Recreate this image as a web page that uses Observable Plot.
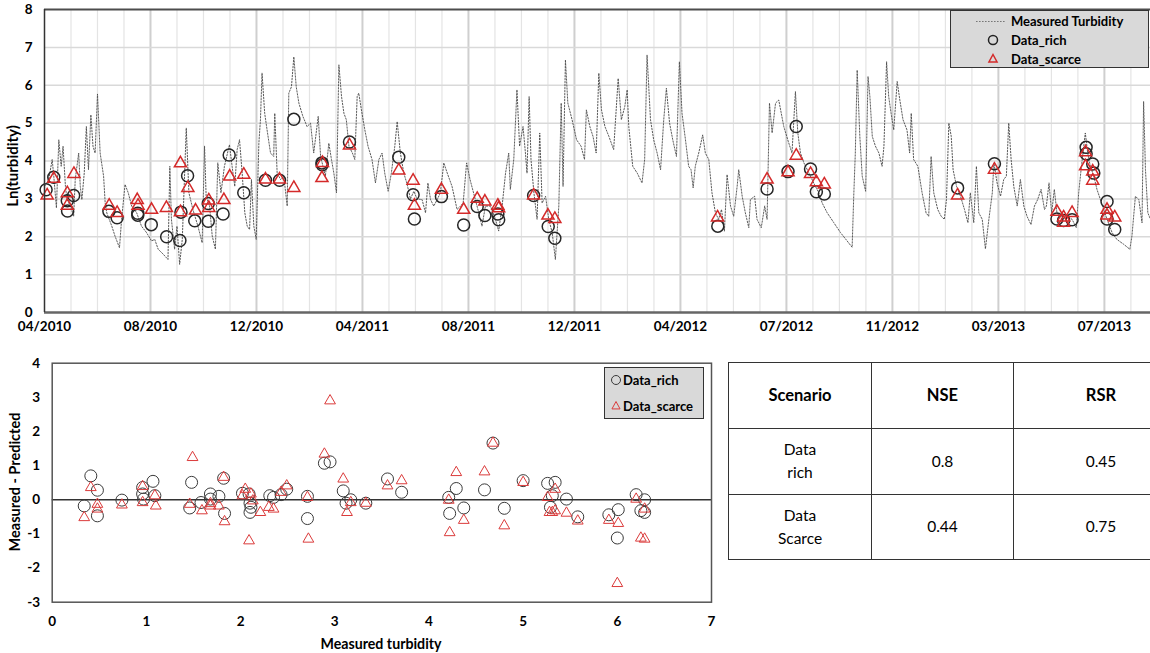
<!DOCTYPE html>
<html><head><meta charset="utf-8">
<script src="https://cdn.jsdelivr.net/npm/d3@7"></script>
<script src="https://cdn.jsdelivr.net/npm/@observablehq/plot@0.6"></script>
<style>
body{margin:0;background:#fff;font-family:Lato,"Open Sans",sans-serif;color:#000;}
#wrap{position:relative;width:1150px;height:653px;overflow:hidden;background:#fff;}
.vlab{position:absolute;transform:translate(-50%,-50%) rotate(-90deg);white-space:nowrap;font-weight:bold;}
.hlab{position:absolute;transform:translate(-50%,-50%);white-space:nowrap;font-weight:bold;}
.legend{position:absolute;background:#d9d9d9;border:1.5px solid #333;box-sizing:border-box;}
.lrow{position:absolute;font-weight:bold;font-size:13px;white-space:nowrap;line-height:14px;}
.lrow svg{position:absolute;}
table.stats{position:absolute;left:728px;top:362px;border-collapse:collapse;table-layout:fixed;width:460px;font-family:Lato,sans-serif;font-size:15.5px;}
table.stats td{border:1.5px solid #333;text-align:center;vertical-align:middle;padding:0;line-height:23px;}
</style></head><body><div id="wrap"></div>
<script>
// ---------- data ----------
const xTickLabels = ["04/2010","08/2010","12/2010","04/2011","08/2011","12/2011","04/2012","07/2012","11/2012","03/2013","07/2013"];
const yTicksTop = [0,1,2,3,4,5,6,7,8];
const xTicksBottom = [0,1,2,3,4,5,6,7];
const yTicksBottom = [-3,-2,-1,0,1,2,3,4];

// measured turbidity (x = period index along the category axis, y = Ln(turbidity))
const turbidity = [
[0,3.33],[.16,3.51],[.29,4.04],[.35,3.60],[.45,2.76],[.54,4.56],[.63,3.86],[.70,4.39],[.79,3.33],[.85,2.98],[.98,2.81],[1.10,2.54],[1.16,3.51],[1.29,4.21],[1.35,3.33],[1.41,2.98],[1.50,3.68],[1.58,4.91],[1.66,3.77],[1.75,5.22],[1.83,4.39],[1.91,4.21],[2.00,5.77],[2.10,4.21],[2.23,3.60],[2.29,2.89],[2.35,2.63],[2.54,2.28],[2.66,2.02],[2.83,1.71],[2.91,2.46],[3.04,3.38],[3.16,3.16],[3.29,2.81],[3.48,2.63],[3.66,2.28],[3.85,2.11],[4.04,1.89],[4.16,1.93],[4.29,1.67],[4.48,1.54],[4.66,1.40],[4.73,3.86],[4.79,2.46],[4.91,1.67],[5.00,2.28],[5.10,1.27],[5.20,1.93],[5.35,4.87],[5.45,3.16],[5.60,2.72],[5.79,2.28],[5.95,1.84],[6.04,4.39],[6.10,3.07],[6.23,2.81],[6.33,2.02],[6.45,1.67],[6.54,3.95],[6.66,3.16],[6.79,3.86],
[6.98,4.43],[7.08,3.86],[7.18,3.33],[7.27,4.30],[7.36,4.56],[7.46,3.68],[7.56,2.63],[7.65,2.28],[7.74,2.19],[7.81,3.51],[7.90,2.28],[7.99,1.93],[8.09,4.47],[8.15,5.09],[8.21,6.32],[8.31,5.26],[8.40,4.82],[8.53,4.21],[8.65,4.12],[8.69,5.26],[8.78,3.68],[8.91,3.51],[9.03,3.60],[9.16,2.81],[9.22,5.79],[9.32,5.96],[9.41,6.75],[9.50,5.96],[9.60,5.53],[9.75,5.18],[9.91,4.91],[10.04,5.00],[10.16,4.21],[10.33,5.18],[10.42,4.12],[10.51,3.86],[10.60,3.60],[10.73,4.47],[10.83,4.04],[10.92,3.68],[11.02,3.16],[11.11,6.54],[11.21,5.70],[11.30,5.26],[11.39,5.09],[11.49,4.39],[11.62,4.21],[11.71,4.04],[11.80,5.70],[11.86,5.79],[11.96,5.35],[12.09,4.82],[12.21,4.39],[12.36,4.04],[12.49,3.42],[12.62,4.04],[12.74,4.21],[12.84,3.68],[12.97,3.20],[13.09,3.68],[13.22,4.39],[13.31,5.04],[13.43,4.21],[13.56,3.68],[13.68,3.40],[13.81,3.00],[13.94,3.20],
[14.06,3.00],[14.25,2.98],[14.38,2.63],[14.47,3.42],[14.57,2.98],[14.69,2.81],[14.82,2.98],[14.94,3.16],[15.07,3.95],[15.20,3.68],[15.38,3.33],[15.57,2.72],[15.70,2.81],[15.80,2.89],[15.93,3.95],[16.06,3.51],[16.26,2.98],[16.39,2.63],[16.51,2.28],[16.64,2.81],[16.83,2.81],[17.02,2.46],[17.14,2.15],[17.27,2.81],[17.40,3.68],[17.52,4.21],[17.58,3.25],[17.71,4.04],[17.83,5.88],[17.93,4.39],[18.06,4.91],[18.15,4.21],[18.21,3.68],[18.29,5.70],[18.36,4.04],[18.47,3.16],[18.59,2.46],[18.69,4.74],[18.78,2.89],[18.91,3.07],[19.03,2.46],[19.16,2.11],[19.28,1.40],[19.41,2.81],[19.50,5.53],[19.57,3.33],[19.66,6.67],[19.75,5.53],[19.91,5.09],[20.08,4.56],[20.25,4.39],[20.38,4.04],[20.45,5.35],[20.58,4.91],[20.70,4.65],[20.82,4.21],[20.92,6.32],
[21.02,5.35],[21.15,4.91],[21.30,4.65],[21.48,4.30],[21.65,6.18],[21.77,5.09],[21.90,5.44],[21.99,5.88],[22.05,4.91],[22.20,3.86],[22.37,3.68],[22.55,3.42],[22.65,4.04],[22.74,6.80],[22.87,5.09],[22.99,4.56],[23.12,4.21],[23.25,3.77],[23.37,5.09],[23.47,5.92],[23.59,5.00],[23.71,4.56],[23.85,4.12],[23.96,6.62],[24.06,5.26],[24.19,4.56],[24.31,3.86],[24.40,3.77],[24.48,3.29],[24.56,3.86],[24.69,4.21],[24.84,4.69],[24.94,4.21],[25.07,4.04],[25.19,3.16],[25.32,2.63],[25.44,2.46],[25.55,2.72],[25.66,2.15],[25.76,3.64],[25.89,2.81],[26.01,2.54],[26.14,3.33],[26.20,3.77],[26.33,3.07],[26.45,2.63],[26.58,2.24],[26.64,2.98],[26.80,3.07],[26.89,2.46],[27.05,2.24],[27.18,2.81],[27.27,2.46],[27.36,5.53],[27.46,4.74],[27.59,5.53],[27.71,5.61],
[27.90,4.91],[28.05,4.56],[28.21,4.21],[28.28,5.09],[28.34,5.83],[28.43,4.74],[28.53,4.21],[28.66,3.95],[28.85,3.68],[29.03,3.42],[29.22,3.16],[29.35,2.89],[29.54,2.63],[29.79,2.37],[30.04,2.11],[30.29,1.89],[30.48,1.72],[30.54,3.07],[30.60,4.21],[30.67,6.40],[30.77,4.65],[30.86,3.60],[30.99,3.20],[31.08,6.23],[31.15,5.70],[31.24,4.65],[31.36,4.39],[31.49,4.21],[31.61,3.86],[31.68,4.39],[31.78,6.62],[31.86,5.70],[31.95,5.26],[32.05,4.82],[32.18,6.10],[32.28,5.61],[32.40,5.09],[32.55,4.82],[32.65,4.21],[32.71,5.26],[32.80,4.04],[32.96,3.86],[33.12,3.16],[33.27,2.63],[33.37,2.54],[33.46,4.12],[33.56,3.16],[33.71,2.72],[33.84,2.54],[33.96,2.46],[34.04,2.98],[34.13,5.00],[34.22,4.65],[34.29,3.77],[34.42,3.33],[34.57,3.07],[34.72,2.72],[34.85,2.37],
[34.94,3.16],[35.07,2.37],[35.17,3.86],[35.26,2.63],[35.39,2.46],[35.51,1.68],[35.64,2.46],[35.77,3.16],[35.83,3.95],[35.95,3.42],[36.08,3.07],[36.20,3.51],[36.30,3.60],[36.39,5.00],[36.48,4.04],[36.58,3.33],[36.71,2.81],[36.83,3.51],[36.96,2.81],[37.08,2.54],[37.23,2.32],[37.36,2.81],[37.48,2.98],[37.61,3.25],[37.74,2.72],[37.81,2.81],[37.91,3.42],[38.01,2.63],[38.11,3.25],[38.21,2.63],[38.40,2.46],[38.59,2.54],[38.78,2.46],[38.94,2.24],[39.03,3.16],[39.12,3.77],[39.22,4.39],[39.28,4.74],[39.37,4.21],[39.47,3.86],[39.60,3.60],[39.72,3.25],[39.85,2.98],[39.97,2.72],[40.10,2.46],[40.29,2.11],[40.47,1.93],[40.73,1.80],[40.96,1.67],[41.04,2.02],[41.17,3.07],[41.30,2.98],[41.42,2.37],[41.48,5.57],[41.55,3.77],[41.64,2.63],[41.74,2.46]
];

// predicted points over time
const richTop = [
[0.06,3.24],[0.35,3.57],[0.86,2.95],[0.87,2.68],[1.10,3.09],[2.43,2.67],[2.74,2.50],[3.52,2.62],[3.52,2.57],[4.03,2.32],[4.61,2.00],[5.11,1.90],[5.15,2.65],[5.40,3.61],[5.67,2.42],[6.18,2.88],[6.18,2.41],[6.74,2.60],[6.97,4.16],[7.52,3.16],[8.34,3.49],[8.87,3.49],[9.41,5.10],[10.47,3.95],[10.48,3.90],[11.51,4.50],[13.37,4.10],[13.91,3.11],[13.96,2.47],[14.98,3.06],[15.82,2.31],[16.33,2.80],[16.62,2.56],[17.11,2.60],[17.14,2.45],[18.46,3.09],[19.01,2.27],[19.26,1.96],[25.41,2.28],[27.27,3.26],[28.06,3.72],[28.37,4.91],[28.91,3.79],[29.13,3.19],[29.43,3.13],[34.46,3.29],[35.85,3.93],[38.21,2.47],[38.46,2.43],[38.78,2.45],[39.31,4.36],[39.31,4.19],[39.56,3.92],[39.60,3.68],[40.10,2.93],[40.10,2.47],[40.39,2.19]
];
const scarceTop = [
[0.10,3.09],[0.35,3.53],[0.86,3.15],[0.86,2.82],[1.11,3.66],[2.44,2.82],[2.74,2.63],[3.50,2.97],[3.53,2.82],[4.04,2.71],[4.60,2.76],[5.13,3.94],[5.13,2.65],[5.41,3.29],[5.70,2.69],[6.20,2.96],[6.20,2.76],[6.77,2.97],[6.99,3.59],[7.52,3.64],[8.34,3.51],[8.87,3.51],[9.41,3.29],[10.47,3.55],[10.49,3.95],[11.51,4.41],[13.37,3.75],[13.91,3.48],[13.96,2.82],[14.98,3.24],[15.82,2.71],[16.33,3.00],[16.62,2.93],[17.11,2.82],[17.14,2.75],[18.46,3.09],[19.00,2.56],[19.26,2.47],[25.40,2.51],[27.27,3.51],[28.06,3.70],[28.37,4.14],[28.91,3.66],[29.13,3.44],[29.43,3.38],[34.46,3.09],[35.85,3.77],[38.21,2.66],[38.46,2.51],[38.46,2.37],[38.78,2.63],[39.29,4.23],[39.29,3.86],[39.56,3.72],[39.56,3.48],[40.10,2.71],[40.10,2.56],[40.39,2.51]
];

// residuals: [measured turbidity, measured - predicted]
const richResidual = [
[.34,-.18],[.41,.70],[.48,.28],[.48,-.47],[.74,-.01],[.96,.36],[.96,.17],[.97,.02],[1.07,.54],[1.09,.12],[1.48,.51],[1.46,-.24],[1.58,-.08],[1.68,.17],[1.68,.02],[1.77,.10],[1.82,.63],[1.83,-.40],[2.02,.19],[2.09,.17],[2.10,-.10],[2.10,-.37],[2.11,-.22],[2.31,.12],[2.35,.07],[2.43,.15],[2.49,.31],[2.71,.10],[2.71,-.55],[2.89,1.07],[2.95,1.11],[3.09,.26],[3.12,-.10],[3.17,0],[3.33,-.10],[3.56,.61],[3.71,.22],[4.21,.07],[4.22,-.40],[4.29,.33],[4.37,-.24],[4.59,.29],[4.68,1.66],[4.80,-.25],[5.00,.56],[5.26,.48],[5.34,.51],[5.29,-.22],[5.31,.12],[5.46,.02],[5.58,-.50],[5.91,-.44],[6.01,-.29],[6.00,-1.12],[6.20,.15],[6.29,0],[6.25,-.32],[6.29,-.37]
];
const scarceResidual = [
[.34,-.52],[.41,.36],[.48,-.13],[.48,-.27],[.74,-.15],[.96,.39],[.96,-.08],[1.09,.12],[1.10,-.18],[1.49,1.24],[1.46,-.13],[1.59,-.32],[1.68,-.11],[1.68,-.18],[1.77,-.18],[1.82,.66],[1.83,-.64],[2.02,.12],[2.05,.31],[2.09,-1.20],[2.11,.17],[2.13,-.03],[2.21,-.37],[2.30,-.22],[2.35,-.27],[2.43,.22],[2.49,.41],[2.71,.07],[2.72,-1.15],[2.89,1.34],[2.95,2.90],[3.09,.61],[3.13,-.37],[3.17,-.08],[3.33,-.10],[3.56,.41],[3.71,.56],[4.21,-.01],[4.22,-.96],[4.29,.80],[4.37,-.60],[4.59,.82],[4.68,1.66],[4.80,-.76],[5.00,.51],[5.26,.07],[5.28,-.37],[5.31,-.37],[5.34,.31],[5.34,-.32],[5.46,-.39],[5.58,-.62],[5.91,-.60],[6.01,-.69],[6.00,-2.45],[6.20,.02],[6.25,-1.12],[6.29,-1.15],[6.29,-.27]
];

// performance table
const tableHeader = ["Scenario","NSE","RSR"];
const tableScenarios = [["Data","rich"],["Data","Scarce"]];
const tableNSE = ["0.8","0.44"];
const tableRSR = ["0.45","0.75"];

// ---------- build ----------
const wrap = document.getElementById("wrap");
const majorTicks = xTickLabels.map((_, i) => i * 4);
const minorTicks = d3.range(1, 42).filter(d => d % 4 !== 0);
const font = "Lato, 'Open Sans', sans-serif";

const topPlot = Plot.plot({
  width: 1150, height: 338,
  marginTop: 9, marginBottom: 26, marginLeft: 44, marginRight: 0,
  x: {domain: [0, 41.74], label: null, axis: null},
  y: {domain: [0, 8], label: null, axis: null},
  style: {fontFamily: font, fontSize: "13.5px", fontWeight: "bold", color: "#000", background: "transparent", overflow: "visible"},
  marks: [
    Plot.ruleX(minorTicks, {stroke: "#e4e4e4", strokeWidth: 1.2}),
    Plot.ruleX(majorTicks.slice(1), {stroke: "#cfcfcf", strokeWidth: 2}),
    Plot.ruleY(d3.range(1, 8), {stroke: "#d9d9d9", strokeWidth: 1.5}),
    Plot.axisY({ticks: yTicksTop, tickSize: 0, tickPadding: 12, label: null, tickFormat: d => String(d)}),
    Plot.axisX({ticks: majorTicks, tickSize: 0, tickPadding: 9, label: null, tickFormat: d => xTickLabels[Math.round(d / 4)]}),
    Plot.line(turbidity, {x: d => d[0], y: d => d[1], stroke: "#4a4a4a", strokeWidth: 0.9, strokeDasharray: "1.4,1.6"}),
    Plot.dot(richTop, {x: d => d[0], y: d => d[1], r: 6, stroke: "#262626", strokeWidth: 1.5, fill: "none"}),
    Plot.dot(scarceTop, {x: d => d[0], y: d => d[1], r: 4.5, symbol: "triangle", stroke: "#d42a2a", strokeWidth: 1.5, fill: "none"}),
    Plot.ruleY([8], {stroke: "#4d4d4d", strokeWidth: 2}),
    Plot.ruleY([0], {stroke: "#666", strokeWidth: 2.5}),
    Plot.ruleX([0], {stroke: "#333", strokeWidth: 1.5})
  ]
});
topPlot.style.position = "absolute"; topPlot.style.left = "0px"; topPlot.style.top = "0px";
wrap.appendChild(topPlot);

const bottomPlot = Plot.plot({
  width: 720, height: 313,
  marginTop: 22.7, marginBottom: 51.3, marginLeft: 51.7, marginRight: 9,
  x: {domain: [0, 7], label: null, axis: null},
  y: {domain: [-3, 4], label: null, axis: null},
  style: {fontFamily: font, fontSize: "13.5px", fontWeight: "bold", color: "#000", background: "transparent", overflow: "visible"},
  marks: [
    Plot.axisY({ticks: yTicksBottom, tickSize: 0, tickPadding: 12, label: null, tickFormat: d => String(d)}),
    Plot.axisX({ticks: xTicksBottom, tickSize: 0, tickPadding: 14, label: null, tickFormat: d => String(d)}),
    Plot.ruleY([0], {stroke: "#333", strokeWidth: 1.5}),
    Plot.dot(richResidual, {x: d => d[0], y: d => d[1], r: 6, stroke: "#3a3a3a", strokeWidth: 1, fill: "none"}),
    Plot.dot(scarceResidual, {x: d => d[0], y: d => d[1], r: 4, symbol: "triangle", stroke: "#db3b3b", strokeWidth: 1, fill: "none"}),
    Plot.frame({stroke: "#555", strokeWidth: 1.5})
  ]
});
bottomPlot.style.position = "absolute"; bottomPlot.style.left = "0px"; bottomPlot.style.top = "340px";
wrap.appendChild(bottomPlot);

// axis titles
function addLabel(cls, text, x, y, size) {
  const d = document.createElement("div");
  d.className = cls; d.textContent = text;
  d.style.left = x + "px"; d.style.top = y + "px"; d.style.fontSize = size + "px";
  wrap.appendChild(d);
}
addLabel("vlab", "Ln(turbidity)", 12, 166, 15);
addLabel("vlab", "Measured - Predicted", 14, 482, 14.5);
addLabel("hlab", "Measured turbidity", 381, 643, 14.2);

// legends
const circleSvg = (r, sw, col) => `<svg width="14" height="14" viewBox="-7 -7 14 14" style="left:0;top:0"><circle r="${r}" fill="none" stroke="${col}" stroke-width="${sw}"/></svg>`;
const triSvg = (s, sw, col) => `<svg width="14" height="14" viewBox="-7 -7 14 14" style="left:0;top:0"><path d="M0,${-s}L${s*0.9},${s*0.65}L${-s*0.9},${s*0.65}Z" fill="none" stroke="${col}" stroke-width="${sw}"/></svg>`;

const lg1 = document.createElement("div");
lg1.className = "legend";
Object.assign(lg1.style, {left: "950px", top: "10px", width: "199px", height: "58px"});
lg1.innerHTML = `
 <div class="lrow" style="left:24px;top:3px;"><svg width="32" height="14" style="left:0;top:0"><line x1="1" y1="7.5" x2="31" y2="7.5" stroke="#777" stroke-width="1" stroke-dasharray="1.6,1.4"/></svg><span style="position:absolute;left:36px;top:0">Measured Turbidity</span></div>
 <div class="lrow" style="left:35px;top:22px;">${circleSvg(4.5,1.5,"#222")}<span style="position:absolute;left:25px;top:0">Data_rich</span></div>
 <div class="lrow" style="left:35px;top:41px;">${triSvg(4.5,1.5,"#d42a2a")}<span style="position:absolute;left:25px;top:0">Data_scarce</span></div>`;
wrap.appendChild(lg1);

const lg2 = document.createElement("div");
lg2.className = "legend";
Object.assign(lg2.style, {left: "604px", top: "367px", width: "100px", height: "52px"});
lg2.innerHTML = `
 <div class="lrow" style="left:4px;top:5px;">${circleSvg(4.5,1,"#3a3a3a")}<span style="position:absolute;left:14px;top:0">Data_rich</span></div>
 <div class="lrow" style="left:4px;top:31px;">${triSvg(4.5,1,"#db3b3b")}<span style="position:absolute;left:14px;top:0">Data_scarce</span></div>`;
wrap.appendChild(lg2);

// table
const tbl = document.createElement("table");
tbl.className = "stats";
let html = '<colgroup><col style="width:143px"><col style="width:142px"><col style="width:175px"></colgroup>';
html += "<tr>" + tableHeader.map(h => `<td style="height:65px;font-weight:bold;font-size:16.5px">${h}</td>`).join("") + "</tr>";
tableScenarios.forEach((s, i) => {
  html += `<tr><td style="height:64.5px">${s[0]}<br>${s[1]}</td><td>${tableNSE[i]}</td><td>${tableRSR[i]}</td></tr>`;
});
tbl.innerHTML = html;
wrap.appendChild(tbl);
</script>
</body></html>
